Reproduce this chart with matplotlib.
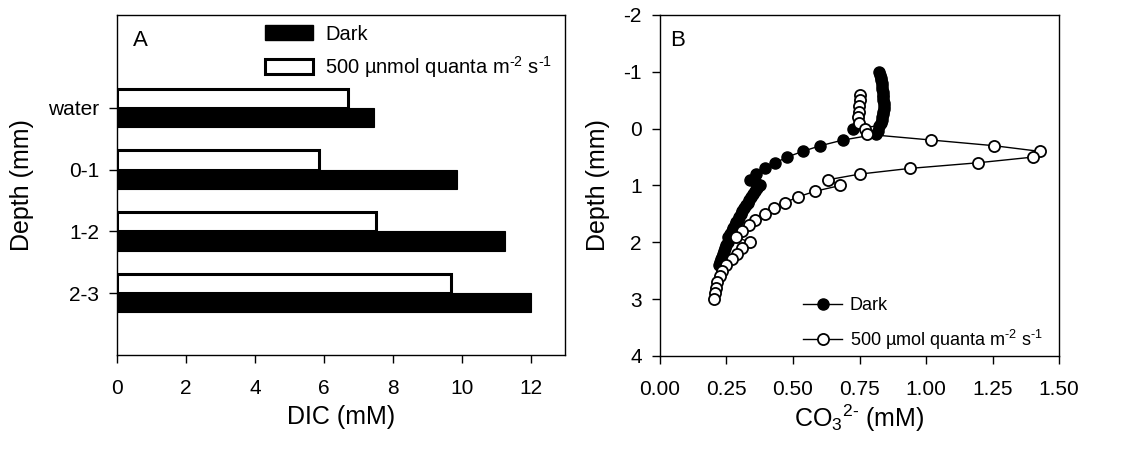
import matplotlib
matplotlib.use("Agg")
import matplotlib.pyplot as plt
from matplotlib.patches import Patch
from matplotlib.ticker import FormatStrFormatter

plt.rcParams['font.family'] = ['Liberation Sans', 'DejaVu Sans']
plt.rcParams['axes.unicode_minus'] = False

# --- panel A: DIC per depth layer ---
layers = ["water", "0-1", "1-2", "2-3"]
dic_dark = [7.47, 9.86, 11.25, 12.02]
dic_light = [6.69, 5.87, 7.52, 9.69]

# --- panel B: CO3 2- profiles ---
dark_depth = [-1.0, -0.95, -0.9, -0.85, -0.8, -0.75, -0.7, -0.65, -0.6, -0.55,
              -0.5, -0.45, -0.4, -0.35, -0.3, -0.25, -0.2, -0.15, -0.1, -0.05,
              0.0, 0.05, 0.1, 0.2, 0.3, 0.4, 0.5, 0.6, 0.7, 0.8, 0.9, 0.95,
              1.0, 1.05, 1.1, 1.15, 1.2, 1.25, 1.3, 1.35, 1.4, 1.45, 1.5,
              1.55, 1.6, 1.65, 1.7, 1.75, 1.8, 1.85, 1.9, 1.95, 2.0, 2.05,
              2.1, 2.15, 2.2, 2.25, 2.3, 2.35, 2.4]
dark_co3 = [0.824, 0.827, 0.829, 0.831, 0.833, 0.834, 0.836, 0.837, 0.838, 0.839,
            0.840, 0.841, 0.841, 0.841, 0.840, 0.838, 0.836, 0.833, 0.829, 0.824,
            0.725, 0.818, 0.813, 0.688, 0.603, 0.536, 0.478, 0.434, 0.394, 0.362,
            0.340, 0.362, 0.375, 0.366, 0.358, 0.350, 0.343, 0.336, 0.329, 0.322,
            0.316, 0.310, 0.304, 0.298, 0.292, 0.287, 0.281, 0.276, 0.270, 0.265,
            0.256, 0.258, 0.254, 0.250, 0.246, 0.242, 0.238, 0.234, 0.230, 0.226,
            0.222]

light_depth = [-0.6, -0.5, -0.4, -0.3, -0.2, -0.1, 0.0, 0.1, 0.2, 0.3, 0.4, 0.5,
               0.6, 0.7, 0.8, 0.9, 1.0, 1.1, 1.2, 1.3, 1.4, 1.5, 1.6, 1.7, 1.8,
               1.9, 2.0, 2.1, 2.2, 2.3, 2.4, 2.5, 2.6, 2.7, 2.8, 2.9, 3.0]
light_co3 = [0.750, 0.750, 0.748, 0.747, 0.746, 0.748, 0.770, 0.780, 1.019, 1.256,
             1.428, 1.403, 1.196, 0.938, 0.750, 0.631, 0.678, 0.584, 0.519, 0.471,
             0.428, 0.393, 0.359, 0.334, 0.309, 0.284, 0.338, 0.309, 0.290, 0.269,
             0.249, 0.234, 0.224, 0.213, 0.209, 0.206, 0.203]

HY = '\u2010'  # real hyphen, mathtext would turn '-' into a minus sign
light_label_a = r'500 µnmol quanta m$^{\mathregular{%s2}}$ s$^{\mathregular{%s1}}$' % (HY, HY)
light_label_b = r'500 µmol quanta m$^{\mathregular{%s2}}$ s$^{\mathregular{%s1}}$' % (HY, HY)

fig = plt.figure(figsize=(11.46, 4.5), dpi=100)
ax1 = fig.add_axes([0.1021, 0.2111, 0.391, 0.7556])
ax2 = fig.add_axes([0.5759, 0.2089, 0.3482, 0.7578])

TICK_FS = 15
LABEL_FS = 18

# bars: light bar sits above the tick, dark bar below it
ypos = [4, 3, 2, 1]
bar_h = 0.31
ax1.barh(ypos, dic_dark, height=-bar_h, align='edge', color='black',
         edgecolor='black', linewidth=0.8)
ax1.barh(ypos, dic_light, height=bar_h, align='edge', color='white',
         edgecolor='black', linewidth=2.2)
ax1.set_xlim(0, 13)
ax1.set_ylim(0, 5.5)
ax1.set_yticks(ypos)
ax1.set_yticklabels(layers)
ax1.set_xticks([0, 2, 4, 6, 8, 10, 12])
ax1.set_xlabel("DIC (mM)", fontsize=LABEL_FS, labelpad=5)
ax1.set_ylabel("Depth (mm)", fontsize=LABEL_FS, labelpad=10)
ax1.text(0.035, 0.955, "A", transform=ax1.transAxes, fontsize=16, va='top')
handles_a = [
    Patch(facecolor='black', edgecolor='black', label='Dark'),
    Patch(facecolor='white', edgecolor='black', linewidth=2.2, label=light_label_a),
]
ax1.legend(handles=handles_a, loc='upper left', bbox_to_anchor=(0.29, 1.025),
           frameon=False, fontsize=14.5, handlelength=2.4, handleheight=0.75,
           labelspacing=0.5, handletextpad=0.6)

# profiles
ax2.plot(dark_co3, dark_depth, '-o', color='black', markerfacecolor='black',
         markeredgecolor='black', markersize=8, linewidth=1.0, label='Dark')
ax2.plot(light_co3, light_depth, '-o', color='black', markerfacecolor='white',
         markeredgecolor='black', markersize=8, markeredgewidth=1.3,
         linewidth=1.0, label=light_label_b)
ax2.set_xlim(0, 1.5)
ax2.set_ylim(4, -2)
ax2.set_xticks([0, 0.25, 0.5, 0.75, 1.0, 1.25, 1.5])
ax2.set_yticks([-2, -1, 0, 1, 2, 3, 4])
ax2.xaxis.set_major_formatter(FormatStrFormatter('%.2f'))
ax2.set_xlabel(r'CO$_\mathregular{3}$$^{\mathregular{2%s}}$ (mM)' % HY,
               fontsize=LABEL_FS, labelpad=3)
ax2.set_ylabel("Depth (mm)", fontsize=LABEL_FS, labelpad=10)
ax2.text(0.025, 0.955, "B", transform=ax2.transAxes, fontsize=16, va='top')
ax2.legend(loc='lower right', bbox_to_anchor=(1.0, -0.035), frameon=False,
           fontsize=13, handlelength=2.2, labelspacing=0.75, handletextpad=0.4)

for ax in (ax1, ax2):
    ax.tick_params(direction='out', length=6, width=1, labelsize=TICK_FS,
                   top=False, right=False)
    ax.tick_params(axis='x', pad=11)
    ax.tick_params(axis='y', pad=7)
    for s in ax.spines.values():
        s.set_linewidth(1.0)

fig.savefig("out.png", dpi=100)
